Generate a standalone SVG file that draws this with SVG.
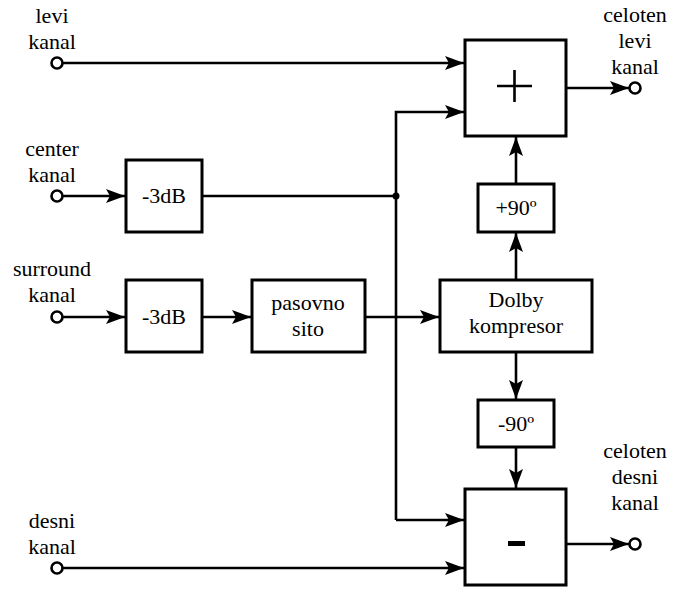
<svg xmlns="http://www.w3.org/2000/svg" width="674" height="592" viewBox="0 0 674 592">
<style>
.b{fill:#fff;stroke:#000;stroke-width:3}
.w{fill:none;stroke:#000;stroke-width:2.6}
.t{font-size:22px;fill:#000;text-anchor:middle}
.p{fill:#fff;stroke:#000;stroke-width:2.6}
</style>
<defs>
<marker id="a" markerUnits="userSpaceOnUse" markerWidth="20" markerHeight="16" refX="19" refY="8" orient="auto">
<path d="M0,1 L19,8 L0,15 L4,8 Z" fill="#000"/>
</marker>
</defs>
<g id="connectors">
<path class="w" d="M62,63 H464" marker-end="url(#a)"/>
<path class="w" d="M62,196 H125" marker-end="url(#a)"/>
<path class="w" d="M202,196 H396"/>
<path class="w" d="M396,520 V112 H464" marker-end="url(#a)"/>
<path class="w" d="M396,520 H464" marker-end="url(#a)"/>
<circle cx="396" cy="196" r="3.5" fill="#000"/>
<path class="w" d="M62,317 H125" marker-end="url(#a)"/>
<path class="w" d="M202,317 H251" marker-end="url(#a)"/>
<path class="w" d="M365,317 H439" marker-end="url(#a)"/>
<path class="w" d="M516,280 V233" marker-end="url(#a)"/>
<path class="w" d="M516,184 V137" marker-end="url(#a)"/>
<path class="w" d="M516,352 V399" marker-end="url(#a)"/>
<path class="w" d="M516,447 V488" marker-end="url(#a)"/>
<path class="w" d="M566,88 H629" marker-end="url(#a)"/>
<path class="w" d="M566,544 H629" marker-end="url(#a)"/>
<path class="w" d="M62,568 H464" marker-end="url(#a)"/>
</g>
<g font-family="Liberation Serif, Times New Roman, serif">
<g id="in_levi">
<text class="t" x="52" y="23">levi</text>
<text class="t" x="52" y="49">kanal</text>
<circle class="p" cx="57" cy="63" r="5.5"/>
</g>
<g id="in_center">
<text class="t" x="52" y="156">center</text>
<text class="t" x="52" y="182">kanal</text>
<circle class="p" cx="57" cy="196" r="5.5"/>
</g>
<g id="in_surround">
<text class="t" x="52" y="276">surround</text>
<text class="t" x="52" y="302">kanal</text>
<circle class="p" cx="57" cy="317" r="5.5"/>
</g>
<g id="in_desni">
<text class="t" x="52" y="528">desni</text>
<text class="t" x="52" y="554">kanal</text>
<circle class="p" cx="57" cy="568" r="5.5"/>
</g>
<g id="out_levi">
<text class="t" x="635" y="22">celoten</text>
<text class="t" x="635" y="48">levi</text>
<text class="t" x="635" y="74">kanal</text>
<circle class="p" cx="635" cy="88" r="5.5"/>
</g>
<g id="out_desni">
<text class="t" x="635" y="458">celoten</text>
<text class="t" x="635" y="484">desni</text>
<text class="t" x="635" y="510">kanal</text>
<circle class="p" cx="635" cy="544" r="5.5"/>
</g>
<g id="att_center">
<rect class="b" x="126" y="160" width="76" height="72"/>
<text class="t" x="164" y="203">-3dB</text>
</g>
<g id="att_surround">
<rect class="b" x="126" y="280" width="76" height="72"/>
<text class="t" x="164" y="324">-3dB</text>
</g>
<g id="pasovno">
<rect class="b" x="252" y="280" width="113" height="72"/>
<text class="t" x="308" y="310">pasovno</text>
<text class="t" x="308" y="336">sito</text>
</g>
<g id="dolby">
<rect class="b" x="440" y="280" width="152" height="72"/>
<text class="t" x="516" y="307">Dolby</text>
<text class="t" x="516" y="333">kompresor</text>
</g>
<g id="plus90">
<rect class="b" x="478" y="184" width="76" height="48"/>
<text class="t" x="516" y="215">+90º</text>
</g>
<g id="minus90">
<rect class="b" x="478" y="400" width="76" height="47"/>
<text class="t" x="516" y="431">-90º</text>
</g>
</g>
<g id="sum">
<rect class="b" x="465" y="40" width="101" height="96"/>
<path d="M497,86 H532 M514.5,70 V102" stroke="#000" stroke-width="2.6"/>
</g>
<g id="diff">
<rect class="b" x="465" y="489" width="101" height="96"/>
<rect x="508" y="541" width="17" height="5" fill="#000"/>
</g>
</svg>
